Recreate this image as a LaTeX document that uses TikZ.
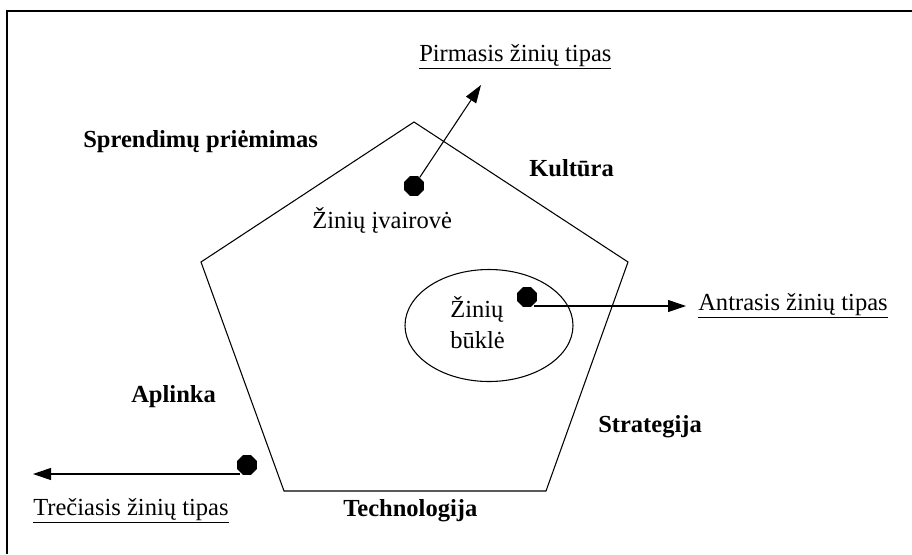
\documentclass[tikz,border=0pt]{standalone}
\usepackage{fontspec}
\setmainfont{Liberation Serif}
\usetikzlibrary{arrows.meta,shapes.geometric}

\begin{document}
\begin{tikzpicture}[x=0.75pt,y=0.75pt,yscale=-1,
  lbl/.style={anchor=base west,inner sep=0pt,font=\fontsize{18.4}{22}\selectfont},
  blbl/.style={lbl,font=\fontsize{18.4}{22}\selectfont\bfseries},
  dot/.style={regular polygon,regular polygon sides=8,fill=black,draw=none,minimum size=16pt,inner sep=0pt},
  arr/.style={line width=0.8pt,-{Triangle[length=13.5pt,width=9pt]}}]
\useasboundingbox (0,0) rectangle (912,554);

%Frame
\draw [line width=1.8pt] (6.7,554) -- (6.7,11) -- (912,11);
%Shape: Pentagon
\draw [line width=0.8pt] (414,122) -- (628,262) -- (546,491) -- (284,491) -- (201,262) -- cycle;
%Shape: Ellipse
\draw [line width=0.8pt] (489,325.5) ellipse [x radius=84, y radius=56];

%Dots
\node [dot] (d1) at (414,186) {};
\node [dot] (d2) at (527,297) {};
\node [dot] (d3) at (247,465) {};

%Arrows
\coordinate (t1) at (481,85);
\coordinate (t2) at (686,306);
\coordinate (t3) at (33,474);
\draw [arr] (d1) -- (t1);
\draw [arr] (d2.south east |- t2) -- (t2);
\draw [arr] (d3.south west |- t3) -- (t3);

% Text Node
\node [lbl] (tip1) at (419,61) {\underline{Pirmasis žinių tipas}};
% Text Node
\node [lbl] (tip2) at (698,310) {\underline{Antrasis žinių tipas}};
% Text Node
\node [lbl] (tip3) at (33,515) {\underline{Trečiasis žinių tipas}};
% Text Node
\node [blbl] (spr) at (83,147) {Sprendimų priėmimas};
% Text Node
\node [blbl] (kul) at (529,176) {Kultūra};
% Text Node
\node [lbl] (ivr) at (312,228) {Žinių įvairovė};
% Text Node
\node [lbl] (bkl1) at (450,317) {Žinių};
% Text Node
\node [lbl] (bkl2) at (450,348) {būklė};
% Text Node
\node [blbl] (apl) at (131,402) {Aplinka};
% Text Node
\node [blbl] (str) at (598,432) {Strategija};
% Text Node
\node [blbl] (tec) at (343,516) {Technologija};

\end{tikzpicture}
\end{document}
